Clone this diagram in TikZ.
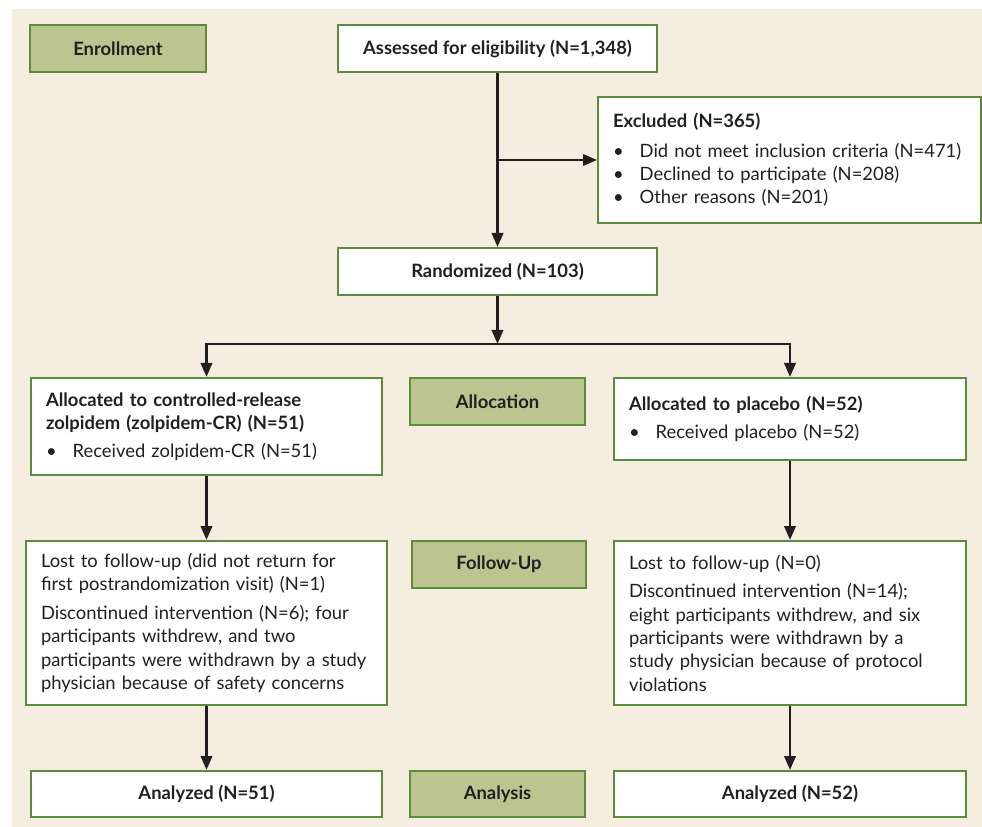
\documentclass[tikz,border=0pt]{standalone}
\usepackage{fontspec}
\setmainfont{Lato}
\usetikzlibrary{arrows.meta}
\definecolor{bgbeige}{HTML}{F5EDE0}
\definecolor{boxgreen}{HTML}{5A8C3C}
\definecolor{stagefill}{HTML}{BCC58F}
\definecolor{inkdark}{HTML}{231F20}
\newcommand{\itm}{\textbullet\hspace{12pt}}
\begin{document}
\begin{tikzpicture}[x=0.75pt, y=-0.75pt,
  >={Triangle[length=10.5pt, width=8.5pt]},
  box/.style={draw=boxgreen, line width=1.5pt, fill=white, text=inkdark, rectangle,
    font=\fontsize{13.8pt}{17.5pt}\selectfont, minimum height=35.25pt},
  titlebox/.style={box, font=\fontsize{13.8pt}{17.5pt}\selectfont\bfseries},
  stagebox/.style={titlebox, fill=stagefill, minimum width=131.25pt},
  listbox/.style={box, align=left, inner xsep=11.25pt},
  flow/.style={draw=inkdark, line width=2pt, ->}]

\fill[bgbeige] (12,9) rectangle (982,827);
\useasboundingbox (0,0) rectangle (982,827);

\node[stagebox, minimum width=132pt] (enroll) at (118,48.5) {Enrollment};
\node[titlebox, minimum width=239.25pt] (assessed) at (497.5,48.5) {Assessed for eligibility (N=1,348)};
\node[listbox, text width=264.75pt, minimum height=94.5pt] (excluded) at (789.5,160)
  {\textbf{Excluded (N=365)}\\[4.5pt]
   \itm Did not meet inclusion criteria (N=471)\\
   \itm Declined to participate (N=208)\\
   \itm Other reasons (N=201)};
\node[titlebox, minimum width=239.25pt] (randomized) at (497.5,271.5) {Randomized (N=103)};

\node[listbox, text width=240.75pt, minimum height=72.75pt] (zolpidem) at (206.5,426.5)
  {\textbf{Allocated to controlled-release}\\
   \textbf{zolpidem (zolpidem-CR) (N=51)}\\[3pt]
   \itm Received zolpidem-CR (N=51)};
\node[stagebox] (alloc) at (497.5,401.5) {Allocation};
\node[listbox, text width=241.5pt, minimum height=61.5pt] (placebo) at (790,419)
  {\textbf{Allocated to placebo (N=52)}\\[3pt]
   \itm Received placebo (N=52)};

\node[listbox, text width=248.25pt, minimum height=123pt] (lostz) at (206.5,623)
  {Lost to follow-up (did not return for\\
   first postrandomization visit) (N=1)\\[4pt]
   Discontinued intervention (N=6); four\\
   participants withdrew, and two\\
   participants were withdrawn by a study\\
   physician because of safety concerns};
\node[stagebox, minimum width=130.5pt] (follow) at (499,564.5) {Follow-Up};
\node[listbox, text width=241.5pt, minimum height=123pt] (lostp) at (790,623)
  {Lost to follow-up (N=0)\\[4pt]
   Discontinued intervention (N=14);\\
   eight participants withdrew, and six\\
   participants were withdrawn by a\\
   study physician because of protocol\\
   violations};

\node[titlebox, minimum width=263.25pt, minimum height=34.5pt] (analyzedz) at (206.5,794) {Analyzed (N=51)};
\node[stagebox, minimum height=34.5pt] (analysis) at (497.5,794) {Analysis};
\node[titlebox, minimum width=264pt, minimum height=34.5pt] (analyzedp) at (790,794) {Analyzed (N=52)};

\coordinate (split) at (497.5,344);

\draw[flow] (assessed) -- (randomized);
\draw[flow] (assessed.south |- excluded.west) -- (excluded.west);
\draw[flow] (randomized) -- (split);
\draw[flow] (split) -| (zolpidem);
\draw[flow] (split) -| (placebo);
\draw[flow] (zolpidem) -- (lostz);
\draw[flow] (placebo) -- (lostp);
\draw[flow] (lostz) -- (analyzedz);
\draw[flow] (lostp) -- (analyzedp);
\end{tikzpicture}
\end{document}
